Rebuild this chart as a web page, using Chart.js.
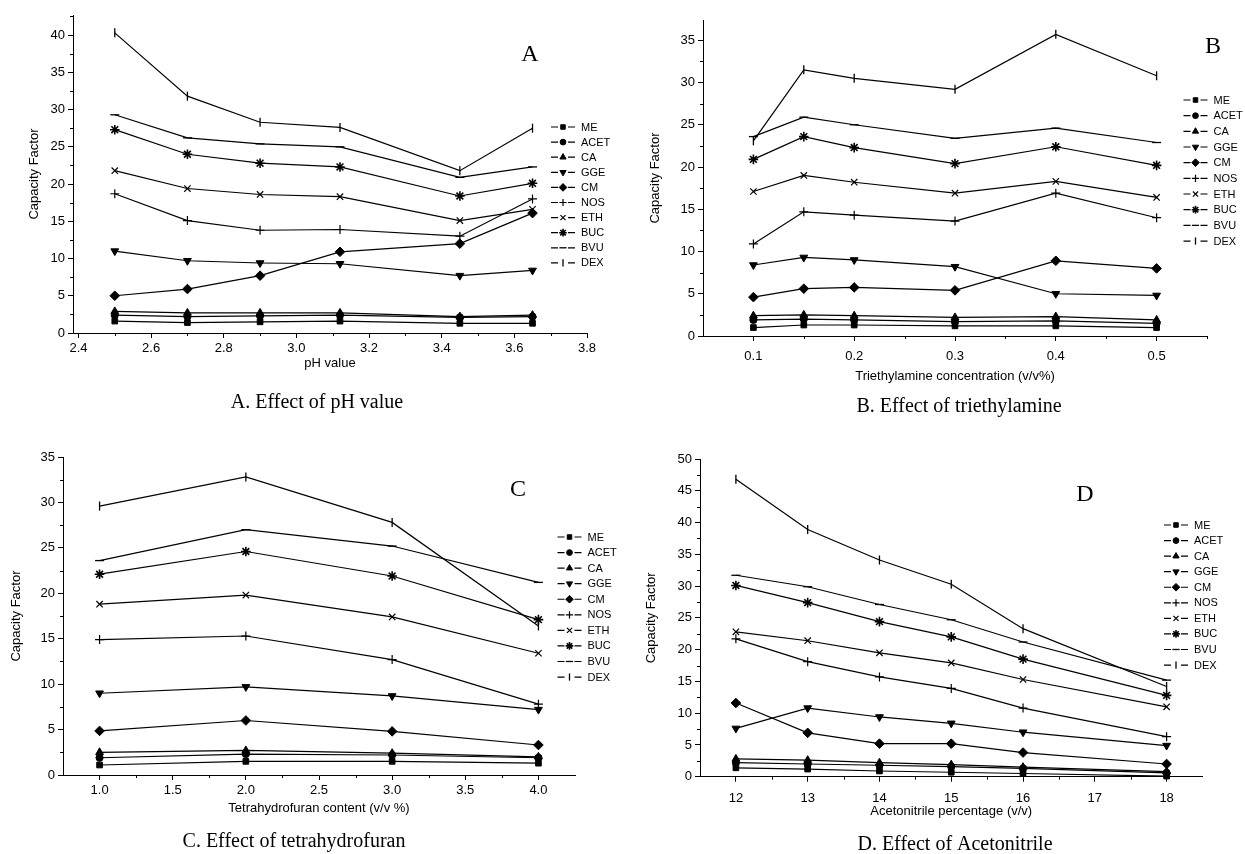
<!DOCTYPE html>
<html><head><meta charset="utf-8">
<script src="https://cdn.jsdelivr.net/npm/chart.js@4.4.1/dist/chart.umd.min.js"></script>
<style>
html,body{margin:0;padding:0;background:#fff;}
#wrap{position:relative;width:1245px;height:854px;overflow:hidden;background:#fff;}
canvas{position:absolute;}
</style></head><body>
<div id="wrap">
<canvas id="cA" width="620" height="420" style="left:0px;top:0px"></canvas>
<canvas id="cB" width="625" height="420" style="left:620px;top:0px"></canvas>
<canvas id="cC" width="620" height="434" style="left:0px;top:420px"></canvas>
<canvas id="cD" width="625" height="434" style="left:620px;top:420px"></canvas>
</div>
<script>
const seriesNames = ['ME','ACET','CA','GGE','CM','NOS','ETH','BUC','BVU','DEX'];

// ---- Panel A: pH value ----
const phX    = [2.5, 2.7, 2.9, 3.12, 3.45, 3.65];
const phME   = [1.6, 1.4, 1.5, 1.6, 1.3, 1.3];
const phACET = [2.4, 2.2, 2.3, 2.4, 2.1, 2.2];
const phCA   = [2.9, 2.7, 2.7, 2.7, 2.2, 2.4];
const phGGE  = [11.0, 9.7, 9.4, 9.3, 7.7, 8.4];
const phCM   = [5.0, 5.9, 7.7, 10.9, 12.0, 16.1];
const phNOS  = [18.7, 15.1, 13.8, 13.9, 13.0, 18.0];
const phETH  = [21.8, 19.4, 18.6, 18.3, 15.1, 16.6];
const phBUC  = [27.3, 24.0, 22.8, 22.3, 18.4, 20.1];
const phBVU  = [29.3, 26.2, 25.4, 25.0, 20.9, 22.3];
const phDEX  = [40.3, 31.8, 28.3, 27.6, 21.8, 27.5];
const phXTicks  = [2.4, 2.6, 2.8, 3.0, 3.2, 3.4, 3.6, 3.8];
const phXLabels = ['2.4','2.6','2.8','3.0','3.2','3.4','3.6','3.8'];
const phXMinor  = [2.5, 2.7, 2.9, 3.1, 3.3, 3.5, 3.7];
const phYTicks  = [0,5,10,15,20,25,30,35,40];
const phYMinor  = [2.5,7.5,12.5,17.5,22.5,27.5,32.5,37.5,42.5];

// ---- Panel B: triethylamine ----
const teX    = [0.1, 0.15, 0.2, 0.3, 0.4, 0.5];
const teME   = [1.0, 1.3, 1.3, 1.2, 1.2, 1.0];
const teACET = [1.9, 2.0, 1.9, 1.7, 1.8, 1.5];
const teCA   = [2.4, 2.5, 2.4, 2.2, 2.3, 1.9];
const teGGE  = [8.4, 9.3, 9.0, 8.2, 5.0, 4.8];
const teCM   = [4.6, 5.6, 5.75, 5.4, 8.9, 8.0];
const teNOS  = [10.9, 14.7, 14.3, 13.6, 16.9, 14.0];
const teETH  = [17.1, 19.0, 18.2, 16.9, 18.3, 16.4];
const teBUC  = [20.9, 23.6, 22.3, 20.4, 22.4, 20.2];
const teBVU  = [23.6, 25.9, 25.0, 23.4, 24.6, 22.9];
const teDEX  = [23.1, 31.5, 30.5, 29.2, 35.7, 30.8];
const teXTicks  = [0.1, 0.2, 0.3, 0.4, 0.5];
const teXLabels = ['0.1','0.2','0.3','0.4','0.5'];
const teXMinor  = [0.15, 0.25, 0.35, 0.45, 0.55];
const teYTicks  = [0,5,10,15,20,25,30,35];
const teYMinor  = [2.5,7.5,12.5,17.5,22.5,27.5,32.5];

// ---- Panel C: tetrahydrofuran ----
const thX    = [1.0, 2.0, 3.0, 4.0];
const thME   = [1.1, 1.5, 1.5, 1.3];
const thACET = [1.9, 2.3, 2.2, 1.9];
const thCA   = [2.5, 2.7, 2.4, 2.0];
const thGGE  = [9.0, 9.7, 8.7, 7.2];
const thCM   = [4.85, 6.0, 4.8, 3.3];
const thNOS  = [14.9, 15.3, 12.7, 7.8];
const thETH  = [18.8, 19.8, 17.4, 13.4];
const thBUC  = [22.1, 24.6, 21.9, 17.1];
const thBVU  = [23.6, 27.0, 25.2, 21.2];
const thDEX  = [29.6, 32.8, 27.8, 16.4];
const thXTicks  = [1.0, 1.5, 2.0, 2.5, 3.0, 3.5, 4.0];
const thXLabels = ['1.0','1.5','2.0','2.5','3.0','3.5','4.0'];
const thXMinor  = [1.25, 1.75, 2.25, 2.75, 3.25, 3.75];
const thYTicks  = [0,5,10,15,20,25,30,35];
const thYMinor  = [2.5,7.5,12.5,17.5,22.5,27.5,32.5];

// ---- Panel D: acetonitrile ----
const acX    = [12, 13, 14, 15, 16, 18];
const acME   = [1.4, 1.2, 0.9, 0.7, 0.5, 0.1];
const acACET = [2.2, 2.0, 1.8, 1.6, 1.3, 0.6];
const acCA   = [2.8, 2.6, 2.2, 1.9, 1.5, 0.8];
const acGGE  = [7.6, 10.8, 9.4, 8.4, 7.0, 4.9];
const acCM   = [11.6, 6.9, 5.2, 5.2, 3.8, 2.0];
const acNOS  = [21.7, 18.1, 15.7, 13.9, 10.8, 6.3];
const acETH  = [22.8, 21.4, 19.5, 17.9, 15.3, 11.0];
const acBUC  = [30.1, 27.4, 24.4, 22.0, 18.5, 12.8];
const acBVU  = [31.7, 29.9, 27.1, 24.7, 21.2, 15.2];
const acDEX  = [46.8, 38.9, 34.1, 30.3, 23.3, 14.2];
const acXTicks  = [12, 13, 14, 15, 16, 17, 18];
const acXLabels = ['12','13','14','15','16','17','18'];
const acXMinor  = [12.5, 13.5, 14.5, 15.5, 16.5, 17.5];
const acYTicks  = [0,5,10,15,20,25,30,35,40,45,50];
const acYMinor  = [2.5,7.5,12.5,17.5,22.5,27.5,32.5,37.5,42.5,47.5];

// ---- styles ----
const SANS = '"Liberation Sans", Arial, sans-serif';
const SERIF = '"Liberation Serif", "Times New Roman", serif';
const markers = [
  {style:'rect', r:4, rot:0, bw:1},
  {style:'circle', r:3.6, rot:0, bw:1},
  {style:'triangle', r:4.5, rot:0, bw:1},
  {style:'triangle', r:4.5, rot:180, bw:1},
  {style:'rectRot', r:4.8, rot:0, bw:1},
  {style:'cross', r:4.5, rot:0, bw:1.2},
  {style:'crossRot', r:4.5, rot:0, bw:1.2},
  {style:'star', r:4.8, rot:0, bw:1.6},
  {style:'line', r:4.5, rot:0, bw:1.3},
  {style:'line', r:4.5, rot:90, bw:1.3}
];

const decorPlugin = {
  id: 'panelDecor',
  afterDraw(chart, args, o) {
    const ctx = chart.ctx;
    const xs = chart.scales.x, ys = chart.scales.y;
    ctx.save();
    ctx.strokeStyle = '#000'; ctx.lineWidth = 1;
    ctx.beginPath();
    o.xMinor.forEach(v => {
      const px = Math.round(xs.getPixelForValue(v)) + 0.5;
      ctx.moveTo(px, ys.bottom); ctx.lineTo(px, ys.bottom + 3);
    });
    o.yMinor.forEach(v => {
      const py = Math.round(ys.getPixelForValue(v)) + 0.5;
      ctx.moveTo(xs.left, py); ctx.lineTo(xs.left - 3, py);
    });
    ctx.stroke();
    ctx.fillStyle = '#000';
    ctx.textAlign = 'center'; ctx.textBaseline = 'middle';
    ctx.font = '24px ' + SERIF;
    ctx.fillText(o.letter, o.letterX, o.letterY);
    ctx.font = '20px ' + SERIF;
    ctx.fillText(o.title, o.titleX, o.titleY);
    // legend
    ctx.font = '11px ' + SANS;
    ctx.textAlign = 'left';
    seriesNames.forEach((name, i) => {
      const y = o.legY + i * o.legDY;
      const x0 = o.legX;
      ctx.lineWidth = 1.2;
      ctx.beginPath();
      ctx.moveTo(x0, y); ctx.lineTo(x0 + 7, y);
      ctx.moveTo(x0 + 17, y); ctx.lineTo(x0 + 24, y);
      ctx.stroke();
      const m = markers[i];
      ctx.lineWidth = m.bw;
      Chart.helpers.drawPoint(ctx, {pointStyle: m.style, radius: m.r * 0.8, rotation: m.rot, borderWidth: m.bw}, x0 + 12, y);
      ctx.fillText(name, x0 + 30, y + 0.5);
    });
    ctx.restore();
  }
};

function makePanel(id, p) {
  const datasets = p.series.map((arr, i) => ({
    label: seriesNames[i],
    data: p.x.map((xv, j) => ({x: xv, y: arr[j]})),
    borderColor: '#000', backgroundColor: '#000', borderWidth: 1.2,
    pointStyle: markers[i].style, pointRadius: markers[i].r, pointRotation: markers[i].rot,
    pointBackgroundColor: '#000', pointBorderColor: '#000', pointBorderWidth: markers[i].bw,
    tension: 0, fill: false, clip: false
  }));
  new Chart(document.getElementById(id), {
    type: 'line',
    data: {datasets},
    plugins: [decorPlugin],
    options: {
      responsive: false, animation: false, events: [],
      layout: {padding: p.pad},
      plugins: {
        legend: {display: false}, tooltip: {enabled: false}, title: {display: false},
        panelDecor: p.decor
      },
      scales: {
        x: {
          type: 'linear', min: p.xmin, max: p.xmax,
          afterBuildTicks: s => { s.ticks = p.xTicks.map(v => ({value: v})); },
          afterFit: s => { s.height = p.xH; },
          ticks: {callback: (v, i) => p.xLabels[i], autoSkip: false, maxRotation: 0, color: '#000',
                  padding: p.xTickPad, font: {family: SANS, size: 13}},
          grid: {drawOnChartArea: false, drawTicks: true, tickLength: 5, color: '#000', tickWidth: 1},
          border: {display: true, color: '#000', width: 1},
          title: {display: true, text: p.xTitle, color: '#000', padding: 0, font: {family: SANS, size: 13}}
        },
        y: {
          type: 'linear', min: 0, max: p.ymax,
          afterBuildTicks: s => { s.ticks = p.yTicks.map(v => ({value: v})); },
          afterFit: s => { s.width = p.yW; },
          ticks: {callback: v => String(v), autoSkip: false, color: '#000', padding: 3,
                  font: {family: SANS, size: 13}},
          grid: {drawOnChartArea: false, drawTicks: true, tickLength: 5, color: '#000', tickWidth: 1},
          border: {display: true, color: '#000', width: 1},
          title: {display: true, text: 'Capacity Factor', color: '#000', padding: 0, font: {family: SANS, size: 13}}
        }
      }
    }
  });
}

makePanel('cA', {
  x: phX, series: [phME, phACET, phCA, phGGE, phCM, phNOS, phETH, phBUC, phBVU, phDEX],
  xmin: 2.385, xmax: 3.8, ymax: 42.7,
  xTicks: phXTicks, xLabels: phXLabels, yTicks: phYTicks,
  pad: {left: 26.2, right: 33, top: 15, bottom: 49.2}, yW: 46.8, xH: 37.8, xTickPad: 2.2,
  xTitle: 'pH value',
  decor: {xMinor: phXMinor, yMinor: phYMinor, letter: 'A', letterX: 530, letterY: 55,
          title: 'A. Effect of pH value', titleX: 317, titleY: 403, legX: 551, legY: 127, legDY: 15.1}
});
makePanel('cB', {
  x: teX, series: [teME, teACET, teCA, teGGE, teCM, teNOS, teETH, teBUC, teBVU, teDEX],
  xmin: 0.05, xmax: 0.55, ymax: 37.4,
  xTicks: teXTicks, xLabels: teXLabels, yTicks: teYTicks,
  pad: {left: 27.9, right: 38, top: 20, bottom: 35.5}, yW: 55.1, xH: 48.5, xTickPad: 7.9,
  xTitle: 'Triethylamine concentration (v/v%)',
  decor: {xMinor: teXMinor, yMinor: teYMinor, letter: 'B', letterX: 593, letterY: 47,
          title: 'B. Effect of triethylamine', titleX: 339, titleY: 407, legX: 563.5, legY: 100, legDY: 15.67}
});
makePanel('cC', {
  x: thX, series: [thME, thACET, thCA, thGGE, thCM, thNOS, thETH, thBUC, thBVU, thDEX],
  xmin: 0.75, xmax: 4.25, ymax: 35,
  xTicks: thXTicks, xLabels: thXLabels, yTicks: thYTicks,
  pad: {left: 8.2, right: 45, top: 37, bottom: 37.9}, yW: 54.8, xH: 41.1, xTickPad: 2.9,
  xTitle: 'Tetrahydrofuran content (v/v %)',
  decor: {xMinor: thXMinor, yMinor: thYMinor, letter: 'C', letterX: 518, letterY: 70,
          title: 'C. Effect of tetrahydrofuran', titleX: 294, titleY: 421.7, legX: 557.5, legY: 117, legDY: 15.56}
});
makePanel('cD', {
  x: acX, series: [acME, acACET, acCA, acGGE, acCM, acNOS, acETH, acBUC, acBVU, acDEX],
  xmin: 11.5, xmax: 18.5, ymax: 50,
  xTicks: acXTicks, xLabels: acXLabels, yTicks: acYTicks,
  pad: {left: 23.9, right: 42.5, top: 39, bottom: 34.5}, yW: 56.1, xH: 42.8, xTickPad: 8.8,
  xTitle: 'Acetonitrile percentage (v/v)',
  decor: {xMinor: acXMinor, yMinor: acYMinor, letter: 'D', letterX: 465, letterY: 75,
          title: 'D. Effect of Acetonitrile', titleX: 335, titleY: 425, legX: 544, legY: 105, legDY: 15.56}
});
</script>
</body></html>
